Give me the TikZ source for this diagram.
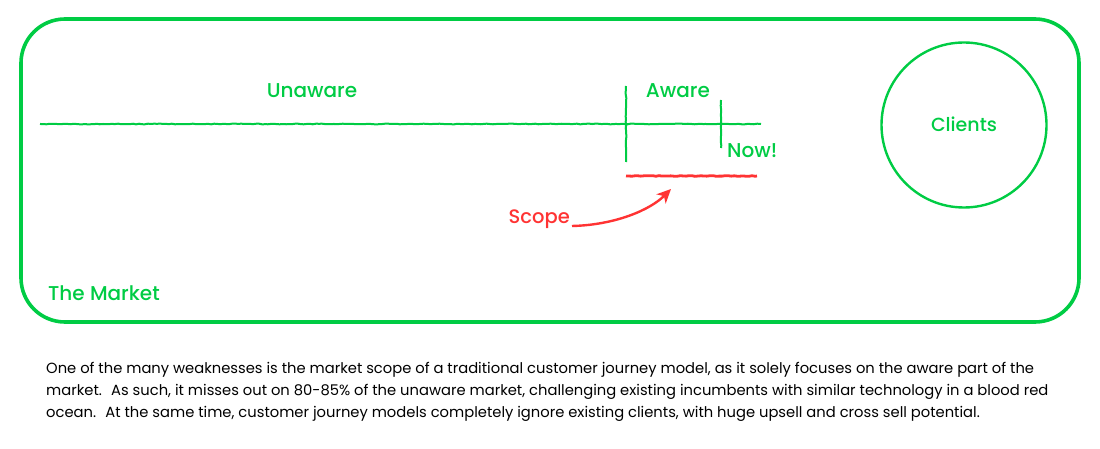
\documentclass[tikz,border=0pt]{standalone}
\usepackage{fontspec}
\setmainfont{Poppins}
\newfontfamily\labelfont{Poppins Medium}
\usetikzlibrary{arrows.meta,decorations.pathmorphing}
\definecolor{marketgreen}{RGB}{0,204,68}
\definecolor{scopered}{RGB}{255,51,51}
\begin{document}
\begin{tikzpicture}[x=1pt,y=-1pt]
	% styles of the sketch
	\tikzset{
		rough/.style={
			decorate,
			decoration={random steps,segment length=3pt,amplitude=0.35pt}
			},
		greenline/.style={
			draw=marketgreen,
			line width=2pt,
			rough
			},
		redline/.style={
			draw=scopered,
			line width=2.8pt,
			rough
			},
		greenlabel/.style={
			text=marketgreen,
			inner sep=0pt,
			font=\labelfont\fontsize{20}{22}\selectfont
			}
	}
	\useasboundingbox (0,0) rectangle (1100,449);

	% the market
	\node [draw=marketgreen, line width=3.6pt, rounded corners=44pt, minimum width=1058pt, minimum height=303pt, inner sep=0pt] (market) at (550,170.5) {};
	\node [greenlabel, anchor=base west] (marketlabel) at (48,300) {The Market};

	% timeline
	\coordinate (linestart) at (40,124);
	\coordinate (lineend) at (761,124);
	\coordinate (awaretop) at (626,86);
	\coordinate (awarebottom) at (626,162);
	\coordinate (nowtop) at (721,100);
	\coordinate (nowbottom) at (721,148);
	\draw [greenline] (linestart) -- (lineend);
	\draw [greenline] (awaretop) -- (awarebottom);
	\draw [greenline] (nowtop) -- (nowbottom);

	\node [greenlabel, anchor=base] (unaware) at (312,98) {Unaware};
	\node [greenlabel, anchor=base] (aware) at (678,98) {Aware};
	\node [greenlabel, anchor=base west] (now) at (727,158) {Now!};

	% clients
	\node [circle, draw=marketgreen, line width=2.4pt, minimum size=165pt, inner sep=0pt] (clients) at (964,125) {};
	\node [greenlabel, anchor=base, font=\labelfont\fontsize{19}{22}\selectfont] (clientslabel) at (964,132) {Clients};

	% scope
	\coordinate (scopestart) at (626,176);
	\coordinate (scopeend) at (757,176);
	\coordinate (scopetail) at (572,226);
	\coordinate (scopetip) at (671,189);
	\draw [redline] (scopestart) -- (scopeend);
	\node [text=scopered, inner sep=0pt, anchor=base east, font=\labelfont\fontsize{19.5}{22}\selectfont] (scope) at (570,223) {Scope};
	\draw [draw=scopered, line width=2.4pt, -{Stealth[length=14pt,width=13pt,inset=4pt]}] (scopetail) .. controls (615,225) and (650,210) .. (scopetip);

	% text below
	\node [anchor=north west, inner sep=0pt, align=left, font=\fontsize{14.73}{21.8}\selectfont] (caption) at (46,362) {One of the many weaknesses is the market scope of a traditional customer journey model, as it solely focuses on the aware part of the\\
	market.~ As such, it misses out on 80-85\% of the unaware market, challenging existing incumbents with similar technology in a blood red\\
	ocean.~ At the same time, customer journey models completely ignore existing clients, with huge upsell and cross sell potential.};
\end{tikzpicture}
\end{document}
